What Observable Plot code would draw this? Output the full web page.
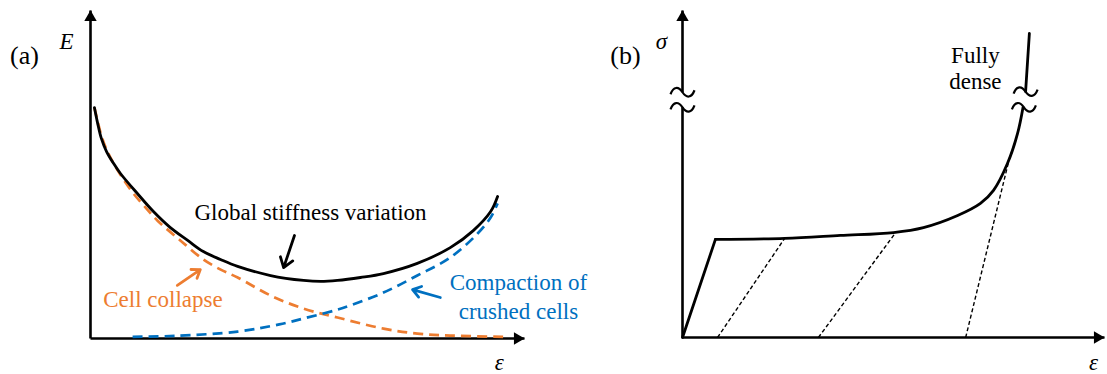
<!DOCTYPE html>
<html><head><meta charset="utf-8">
<script src="https://cdn.jsdelivr.net/npm/d3@7"></script>
<script src="https://cdn.jsdelivr.net/npm/@observablehq/plot@0.6"></script>
<style>
body{margin:0;background:#fff;}
#wrap{position:relative;width:1107px;height:374px;overflow:hidden;background:#fff;}
#pa,#pb{position:absolute;top:0;}
#pa{left:0;} #pb{left:550px;}
</style></head><body>
<div id="wrap"><div id="pa"></div><div id="pb"></div></div>
<script>
// ---------- Panel (a): stiffness vs strain ----------
const strainGlobal = [0.9,1.6,2.5,3.7,5.3,6.9,10.8,14.5,18.4,22.4,26.0,29.95,33.9,41.5,49.1,53.0,56.9,62.2,67.5,75.3,82.9,88.2,92.2,93.8];
const stiffGlobal  = [70.4,65.9,61.0,57.0,53.4,50.3,44.2,38.7,33.8,29.9,26.5,24.1,22.0,19.2,17.7,17.4,17.7,18.6,19.8,22.9,27.7,32.9,38.7,43.3];
const strainCollapse = [0.9,1.6,2.5,3.7,5.3,7.6,9.9,12.7,15.4,20.7,26.0,30.0,33.9,41.5,49.1,56.9,67.5,75.3,82.9,95.2];
const stiffCollapse  = [70.4,66.5,61.9,57.6,53.4,48.5,44.2,39.9,36.0,29.9,24.1,21.0,18.6,13.1,9.1,6.4,3.0,1.5,0.9,0.5];
const strainCompact = [9.7,19.4,33.9,43.5,49.1,56.9,59.9,67.5,75.3,82.9,89.2,92.2,93.8];
const stiffCompact  = [0.5,0.8,2.1,4.3,6.1,8.8,10.1,14.0,19.2,24.7,32.0,36.9,41.2];
const axesA = [{x1:0,y1:0,x2:100,y2:0},{x1:0,y1:0,x2:0,y2:100}];
const pointersA = [
  {x1:47.0,y1:31.4,x2:44.5,y2:21.6,c:"black"},
  {x1:20.0,y1:16.2,x2:25.3,y2:21.0,c:"#ED7D31"},
  {x1:80.6,y1:12.5,x2:74.2,y2:14.9,c:"#0070C0"}
];
const labelsA = [
  {x:50.7,y:39.1,t:"Global stiffness variation",c:"black"},
  {x:16.7,y:12.3,t:"Cell collapse",c:"#ED7D31"},
  {x:98.6,y:13.1,t:"Compaction of\ncrushed cells",c:"#0070C0"}
];
const axisLabelsA = [{x:-5.5,y:90.4,t:"E"},{x:94.2,y:-7.3,t:"ε"}];
const panelTagA = [{x:-15.2,y:86.3,t:"(a)"}];

// ---------- Panel (b): stress vs strain ----------
const strainElastic = [0,7.8];
const stressElastic = [0,30.0];
const strainPlateau = [7.8,24.2,37.4,50.0,57.1,65.2,70.6,73.7,77.0,79.4,80.7];
const stressPlateau = [30.0,30.3,31.2,32.1,33.6,37.3,41.0,45.0,53.2,62.4,70.4];
const strainDense = [81.3,82.2];
const stressDense = [75.2,93.0];
const unloading = [
  {x1:8.3,y1:0,x2:24.2,y2:30.3},
  {x1:32.2,y1:0,x2:50.4,y2:31.9},
  {x1:67.1,y1:0,x2:77.7,y2:56.0}
];
const axesB = [{x1:0,y1:0,x2:100,y2:0},{x1:0,y1:0,x2:0,y2:70.4},{x1:0,y1:75.0,x2:0,y2:100}];
const breaksB = [{x:0,y:70.4},{x:0,y:75.0},{x:80.9,y:70.4},{x:81.3,y:75.2}];
const labelsB = [{x:69.4,y:82.5,t:"Fully\ndense"}];
const axisLabelsB = [{x:-5.0,y:90.5,t:"σ"},{x:97.4,y:-7.6,t:"ε"}];
const panelTagB = [{x:-13.5,y:86.2,t:"(b)"}];

const pts = (xs, ys) => xs.map((x, i) => ({x, y: ys[i]}));
const FONT = "Liberation Serif";

const tilde = {
  draw(ctx, size) {
    const s = Math.sqrt(size / Math.PI) / 12;
    ctx.moveTo(-12*s, 2*s);
    ctx.bezierCurveTo(-9*s, -6*s, -4*s, -6*s, 0, 0);
    ctx.bezierCurveTo(4*s, 6*s, 9*s, 6*s, 12*s, -2*s);
  }
};

function axisMarks(axes) {
  return [
    Plot.link(axes, {x1:"x1",y1:"y1",x2:"x2",y2:"y2",stroke:"black",strokeWidth:2.6,strokeLinecap:"butt"}),
    Plot.dot([{x:100,y:0}], {x:"x",y:"y",symbol:"triangle",r:4.6,fill:"black",rotate:90,dx:-7}),
    Plot.dot([{x:0,y:100}], {x:"x",y:"y",symbol:"triangle",r:4.6,fill:"black",dy:7})
  ];
}

const plotA = Plot.plot({
  width: 600, height: 374,
  marginLeft: 90, marginRight: 76, marginTop: 10, marginBottom: 36,
  x: {domain: [0, 100], axis: null},
  y: {domain: [0, 100], axis: null},
  style: {background: "transparent", overflow: "visible"},
  marks: [
    ...axisMarks(axesA),
    Plot.line(pts(strainCollapse, stiffCollapse), {x:"x",y:"y",stroke:"#ED7D31",strokeWidth:2.7,strokeDasharray:"10,6",strokeLinecap:"butt",curve:"catmull-rom"}),
    Plot.line(pts(strainCompact, stiffCompact), {x:"x",y:"y",stroke:"#0070C0",strokeWidth:2.7,strokeDasharray:"10,6",strokeLinecap:"butt",curve:"catmull-rom"}),
    Plot.line(pts(strainGlobal, stiffGlobal), {x:"x",y:"y",stroke:"black",strokeWidth:2.8,curve:"catmull-rom"}),
    Plot.arrow(pointersA, {x1:"x1",y1:"y1",x2:"x2",y2:"y2",stroke:"c",strokeWidth:2.8,headLength:9,headAngle:70}),
    Plot.text(labelsA, {x:"x",y:"y",text:"t",fill:"c",fontSize:23,lineHeight:1.26,fontFamily:FONT}),
    Plot.text(axisLabelsA, {x:"x",y:"y",text:"t",fill:"black",fontSize:23,fontStyle:"italic",fontFamily:FONT}),
    Plot.text(panelTagA, {x:"x",y:"y",text:"t",fill:"black",fontSize:26,fontFamily:FONT})
  ]
});

const plotB = Plot.plot({
  width: 557, height: 374,
  marginLeft: 132, marginRight: 3, marginTop: 10, marginBottom: 37,
  x: {domain: [0, 100], axis: null},
  y: {domain: [0, 100], axis: null},
  style: {background: "transparent", overflow: "visible"},
  marks: [
    ...axisMarks(axesB),
    Plot.link(unloading, {x1:"x1",y1:"y1",x2:"x2",y2:"y2",stroke:"black",strokeWidth:1.4,strokeDasharray:"4,2.5",strokeLinecap:"butt"}),
    Plot.line(pts(strainElastic, stressElastic), {x:"x",y:"y",stroke:"black",strokeWidth:2.8}),
    Plot.line(pts(strainPlateau, stressPlateau), {x:"x",y:"y",stroke:"black",strokeWidth:2.8,curve:"catmull-rom"}),
    Plot.line(pts(strainDense, stressDense), {x:"x",y:"y",stroke:"black",strokeWidth:2.8}),
    Plot.dot(breaksB, {x:"x",y:"y",symbol:tilde,r:12,fill:"none",stroke:"black",strokeWidth:2.2}),
    Plot.text(labelsB, {x:"x",y:"y",text:"t",fill:"black",fontSize:23,lineHeight:1.12,fontFamily:FONT}),
    Plot.text(axisLabelsB, {x:"x",y:"y",text:"t",fill:"black",fontSize:23,fontStyle:"italic",fontFamily:FONT}),
    Plot.text(panelTagB, {x:"x",y:"y",text:"t",fill:"black",fontSize:26,fontFamily:FONT})
  ]
});

document.getElementById("pa").appendChild(plotA);
document.getElementById("pb").appendChild(plotB);
</script>
</body></html>
